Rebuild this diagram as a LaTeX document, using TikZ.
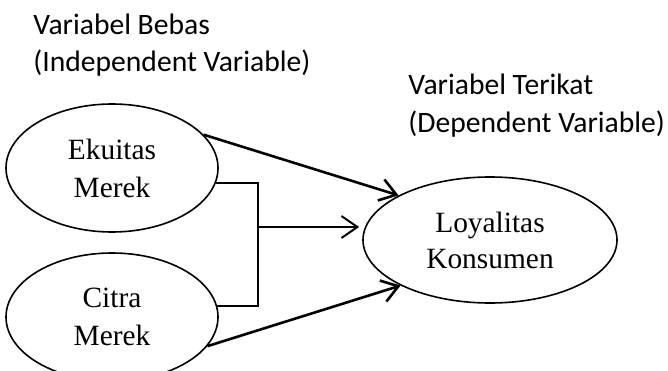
\documentclass[tikz,border=0pt]{standalone}
\usepackage{fontspec}
\setmainfont{Liberation Serif}
\newfontfamily\headfont{Carlito}
\usetikzlibrary{arrows.meta,shapes.geometric,calc}

\begin{document}
\begin{tikzpicture}[x=0.5pt,y=0.5pt,>={Straight Barb[length=8pt,width=11pt]},
  var/.style={draw,ellipse,line width=0.8pt,inner sep=0pt,align=center,
    font=\fontsize{14.7}{19}\selectfont},
  head/.style={anchor=base west,inner sep=0pt,
    font=\headfont\fontsize{14.8}{18.5}\selectfont},
  link/.style={->,line width=1.3pt}]
\useasboundingbox (0,0) rectangle (668,370);
\node[head] (hx) at (33,335) {Variabel Bebas};
\node[head] (hxe) at (33,298) {(Independent Variable)};
\node[head] (hy) at (408,275) {Variabel Terikat};
\node[head] (hye) at (408,238) {(Dependent Variable)};

\node[var,minimum width=106pt,minimum height=64pt] (ek) at (112,202) {Ekuitas\\Merek};
\node[var,minimum width=106pt,minimum height=64pt] (ct) at (112,53) {Citra\\Merek};
\node[var,minimum width=127pt,minimum height=63pt,
  font=\fontsize{14.7}{18}\selectfont] (loy) at (490,130) {Loyalitas\\Konsumen};

\coordinate (jn) at (258,143);
\draw[line width=1pt] (ek.-8) -| (jn) |- (ct.6);
\draw[->,line width=1pt,shorten >=1.5pt] (jn) -- (jn -| loy.west);
\draw[link] (ek.20) -- (loy.154);
\draw[link] (ct.-17) -- (loy.207);
\end{tikzpicture}
\end{document}
